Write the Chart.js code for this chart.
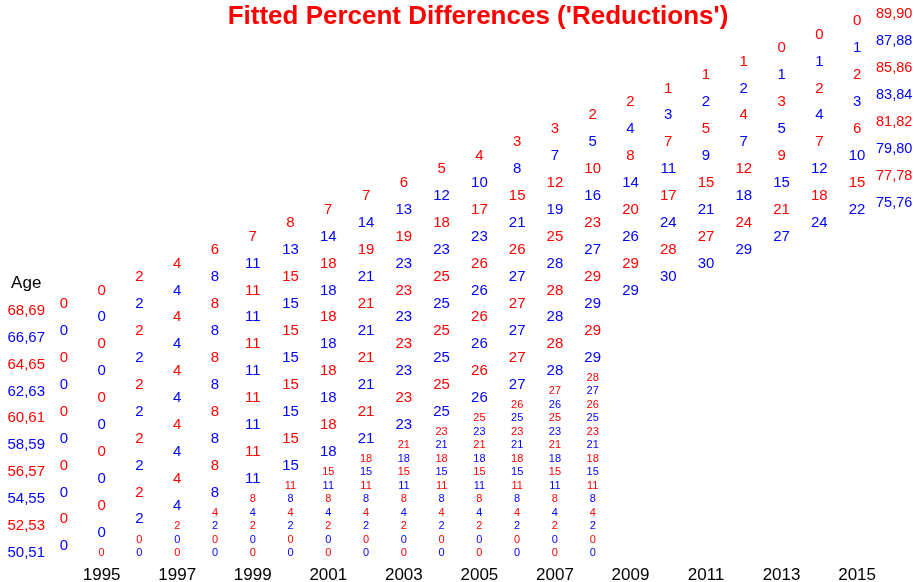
<!DOCTYPE html>
<html>
<head>
<meta charset="utf-8">
<script src="https://cdn.jsdelivr.net/npm/chart.js@4.4.1/dist/chart.umd.min.js"></script>
<style>
  html, body { margin: 0; padding: 0; background: #fff; }
  #wrap { width: 914px; height: 582px; position: relative; }
</style>
</head>
<body>
<div id="wrap"><canvas id="myChart"></canvas></div>
<script>
// anos (eixo x) e rótulos mostrados
const years = [1994,1995,1996,1997,1998,1999,2000,2001,2002,2003,2004,2005,2006,2007,2008,2009,2010,2011,2012,2013,2014,2015];
const tickYears = [1995,1997,1999,2001,2003,2005,2007,2009,2011,2013,2015];

// coortes de 2 anos: idade em 1994 (grupos à esquerda)
const pairLabels = ['68,69','66,67','64,65','62,63','60,61','58,59','56,57','54,55','52,53','50,51'];
const pairRows = [
  [0,0,2,4,6,7,8,7,7,6,5,4,3,3,2,2,1,1,1,0,0,0],
  [0,0,2,4,8,11,13,14,14,13,12,10,8,7,5,4,3,2,2,1,1,1],
  [0,0,2,4,8,11,15,18,19,19,18,17,15,12,10,8,7,5,4,3,2,2],
  [0,0,2,4,8,11,15,18,21,23,23,23,21,19,16,14,11,9,7,5,4,3],
  [0,0,2,4,8,11,15,18,21,23,25,26,26,25,23,20,17,15,12,9,7,6],
  [0,0,2,4,8,11,15,18,21,23,25,26,27,28,27,26,24,21,18,15,12,10],
  [0,0,2,4,8,11,15,18,21,23,25,26,27,28,29,29,28,27,24,21,18,15],
  [0,0,2,4,8,11,15,18,21,23,25,26,27,28,29,29,30,30,29,27,24,22],
  [0,0,2,4,8,11,15,18,21,23,25,26,27,28,29],
  [0,0,2,4,8,11,15,18,21,23,25,26,27,28,29]
];

// coortes de 1 ano (nascimento), a partir dos 50 anos
const singleCohorts = [1945,1946,1947,1948,1949,1950,1951,1952,1953,1954,1955,1956,1957,1958];
const singleRows = [
  [0,0,2,4,8,11,15,18,21,23,25,26,27,28],
  [0,0,2,4,8,11,15,18,21,23,25,26,27],
  [0,0,2,4,8,11,15,18,21,23,25,26],
  [0,0,2,4,8,11,15,18,21,23,25],
  [0,0,2,4,8,11,15,18,21,23],
  [0,0,2,4,8,11,15,18,21],
  [0,0,2,4,8,11,15,18],
  [0,0,2,4,8,11,15],
  [0,0,2,4,8,11],
  [0,0,2,4,8],
  [0,0,2,4],
  [0,0,2],
  [0,0],
  [0]
];

// rótulos dos eixos de idade
const leftLabels = ['50,51','52,53','54,55','56,57','58,59','60,61','62,63','64,65','66,67','68,69','Age'];
const rightLabels = ['75,76','77,78','79,80','81,82','83,84','85,86','87,88','89,90'];

const FONT = "'Liberation Sans', Arial, Helvetica, sans-serif";
const RED = '#ff0000', BLUE = '#0000ff';

const datasets = [];
pairRows.forEach((row, k) => {
  const age0 = parseInt(pairLabels[k]) + 0.5;
  datasets.push({
    label: pairLabels[k],
    data: row.map((v, i) => ({ x: years[i], y: age0 + (years[i] - years[0]), v: v })),
    labelColor: k % 2 ? BLUE : RED,
    labelSize: 15
  });
});
singleRows.forEach((row, j) => {
  const c = singleCohorts[j];
  datasets.push({
    label: String(c),
    data: row.map((v, i) => ({ x: c + 50 + i, y: 50 + i, v: v })),
    labelColor: c % 2 ? RED : BLUE,
    labelSize: 11
  });
});

// escreve os números em cada ponto
const numberLabels = {
  id: 'numberLabels',
  afterDatasetsDraw(chart) {
    const ctx = chart.ctx;
    chart.data.datasets.forEach((ds, i) => {
      const meta = chart.getDatasetMeta(i);
      ctx.save();
      ctx.font = ds.labelSize + 'px ' + FONT;
      ctx.fillStyle = ds.labelColor;
      ctx.textAlign = 'center';
      ctx.textBaseline = 'middle';
      meta.data.forEach((pt, j) => ctx.fillText(String(ds.data[j].v), pt.x, pt.y));
      ctx.restore();
    });
  }
};

// título
const titlePlugin = {
  id: 'titlePlugin',
  afterDraw(chart) {
    const ctx = chart.ctx;
    ctx.save();
    ctx.font = 'bold 26px ' + FONT;
    ctx.fillStyle = RED;
    ctx.textAlign = 'center';
    ctx.textBaseline = 'alphabetic';
    ctx.fillText("Fitted Percent Differences ('Reductions')", chart.width / 2 + 21, 24);
    ctx.restore();
  }
};

const ctx = document.getElementById('myChart').getContext('2d');
const myChart = new Chart(ctx, {
  type: 'scatter',
  data: { datasets: datasets },
  options: {
    responsive: true,
    maintainAspectRatio: false,
    animation: false,
    devicePixelRatio: 1,
    layout: { padding: { top: 34.5, left: 0, right: 0, bottom: 0 } },
    elements: { point: { radius: 0, hoverRadius: 0 } },
    plugins: { legend: { display: false }, tooltip: { enabled: false }, title: { display: false } },
    scales: {
      x: {
        type: 'linear',
        min: 1993.5,
        max: 2015.5,
        grid: { display: false, drawTicks: false },
        border: { display: false },
        afterBuildTicks: s => { s.ticks = tickYears.map(v => ({ value: v })); },
        afterFit: s => { s.height = 22.25; },
        ticks: {
          autoSkip: false,
          maxRotation: 0,
          padding: 5,
          color: '#000',
          font: { family: FONT, size: 17 },
          callback: v => String(v)
        }
      },
      y: {
        type: 'linear',
        position: 'left',
        min: 49.5,
        max: 88.5,
        grid: { display: false, drawTicks: false },
        border: { display: false },
        afterBuildTicks: s => { s.ticks = leftLabels.map((l, i) => ({ value: 50 + 2 * i })); },
        afterFit: s => { s.width = 45; },
        ticks: {
          autoSkip: false,
          padding: 0,
          crossAlign: 'center',
          color: c => c.index === leftLabels.length - 1 ? '#000' : (c.index % 2 ? RED : BLUE),
          font: c => ({ family: FONT, size: c.index === leftLabels.length - 1 ? 17 : 15 }),
          callback: (v, i) => leftLabels[i]
        }
      },
      y2: {
        type: 'linear',
        position: 'right',
        min: 49.5,
        max: 88.5,
        grid: { display: false, drawTicks: false },
        border: { display: false },
        afterBuildTicks: s => { s.ticks = rightLabels.map(l => ({ value: parseInt(l.split(',')[1]) })); },
        afterFit: s => { s.width = 38; },
        ticks: {
          autoSkip: false,
          padding: 0,
          crossAlign: 'center',
          color: c => c.index % 2 ? RED : BLUE,
          font: { family: FONT, size: 14.5 },
          callback: (v, i) => rightLabels[i]
        }
      }
    }
  },
  plugins: [numberLabels, titlePlugin]
});
</script>
</body>
</html>
